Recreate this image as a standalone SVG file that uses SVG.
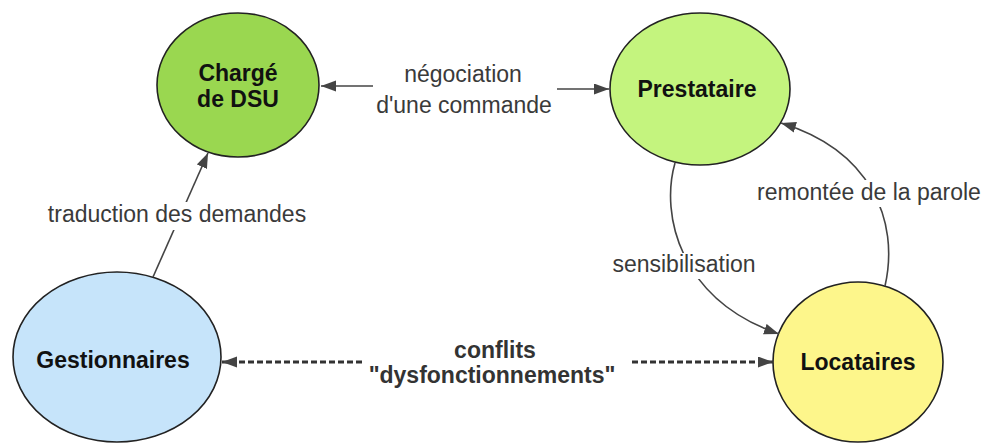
<svg xmlns="http://www.w3.org/2000/svg" width="986" height="443" viewBox="0 0 986 443">
<style>
.node{stroke:#222;stroke-width:1.6}
.nl{font-family:"Liberation Sans",Arial,sans-serif;font-weight:bold;font-size:23px;fill:#111;text-anchor:middle}
.el{font-family:"Liberation Sans",Arial,sans-serif;font-size:23px;fill:#3a3a3a;text-anchor:middle}
.eb{font-family:"Liberation Sans",Arial,sans-serif;font-weight:bold;font-size:23px;fill:#333;text-anchor:middle}
.c{fill:none;stroke:#444;stroke-width:1.6}
.d{fill:none;stroke:#333;stroke-width:3;stroke-dasharray:6 3}
.bg{fill:#fff}
</style>
<defs>
<marker id="ah" markerUnits="userSpaceOnUse" markerWidth="17" markerHeight="12" refX="15" refY="5.5" orient="auto">
<path d="M0,0 L15,5.5 L0,11 z" fill="#444"/>
</marker>
</defs>
<rect width="986" height="443" fill="#fff"/>
<g id="n-charge">
<ellipse class="node" cx="238" cy="85" rx="81" ry="72" fill="#9ad750"/>
<text class="nl" x="238" y="81">Chargé</text>
<text class="nl" x="238" y="107">de DSU</text>
</g>
<g id="n-prestataire">
<ellipse class="node" cx="700" cy="89" rx="90" ry="76" fill="#c4f47e"/>
<text class="nl" x="697" y="97">Prestataire</text>
</g>
<g id="n-gestionnaires">
<ellipse class="node" cx="117" cy="357" rx="104" ry="85" fill="#c6e4fa"/>
<text class="nl" x="113" y="368">Gestionnaires</text>
</g>
<g id="n-locataires">
<ellipse class="node" cx="858" cy="362" rx="85" ry="80" fill="#fdf68b"/>
<text class="nl" x="858" y="370">Locataires</text>
</g>
<g id="connectors">
<line class="c" x1="373" y1="86" x2="321" y2="86" marker-end="url(#ah)"/>
<line class="c" x1="557" y1="89" x2="609" y2="89" marker-end="url(#ah)"/>
<text class="el" x="463" y="82">négociation</text>
<text class="el" x="464" y="113">d'une commande</text>

<line class="c" x1="153" y1="277" x2="208" y2="153" marker-end="url(#ah)"/>
<rect class="bg" x="42" y="202" width="272" height="28"/>
<text class="el" x="177" y="222">traduction des demandes</text>

<path class="c" d="M675,163 C660,215 680,300 779,334" marker-end="url(#ah)"/>
<rect class="bg" x="607" y="253" width="154" height="26"/>
<text class="el" x="684" y="272">sensibilisation</text>

<path class="c" d="M885,286 C900,220 870,150 781,123" marker-end="url(#ah)"/>
<rect class="bg" x="752" y="180" width="233" height="27"/>
<text class="el" x="869" y="200">remontée de la parole</text>

<line class="d" x1="362" y1="362" x2="222" y2="362" marker-end="url(#ah)"/>
<line class="d" x1="632" y1="362" x2="773" y2="362" marker-end="url(#ah)"/>
<text class="eb" x="495" y="358">conflits</text>
<text class="eb" x="492" y="383">"dysfonctionnements"</text>
</g>
</svg>
